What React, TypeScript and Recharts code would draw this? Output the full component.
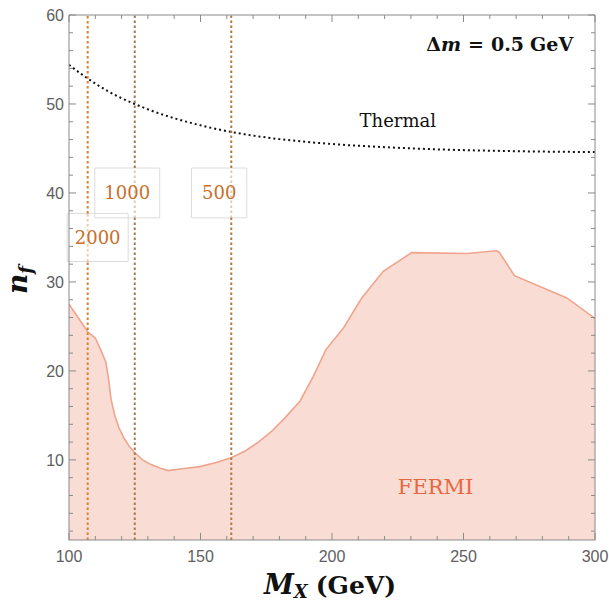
import React from 'react';
import { ComposedChart, Area, Line, XAxis, YAxis, ReferenceLine, ReferenceArea, ReferenceDot } from 'recharts';

if (typeof document !== 'undefined') {
  document.body.style.margin = '0';
}

// FERMI exclusion boundary
const fermiMass = [100, 103, 105.5, 107.1, 110, 112, 114, 115, 116, 117.5, 119, 121, 123, 125, 128, 131, 134.5, 137.7, 143, 149.8, 156, 161.7, 167, 172, 177, 182, 187.8, 192.9, 197.7, 204.3, 211.3, 219.5, 230.3, 251.3, 262.7, 263.7, 269.4, 289.3, 300];
const fermiNf = [27.5, 26.2, 25.1, 24.4, 23.7, 22.4, 21.0, 19.2, 16.8, 14.9, 13.6, 12.4, 11.5, 10.8, 10.0, 9.5, 9.1, 8.8, 9.0, 9.25, 9.7, 10.25, 11.0, 12.0, 13.2, 14.7, 16.6, 19.4, 22.4, 24.8, 28.2, 31.2, 33.3, 33.2, 33.5, 33.3, 30.7, 28.2, 25.9];

// Thermal curve
const thermalMass = [100, 105, 110, 115, 120, 125, 130, 140, 150, 160, 170, 180, 190, 200, 220, 240, 260, 280, 300];
const thermalNf = [54.4, 53.3, 52.3, 51.4, 50.65, 50.0, 49.4, 48.4, 47.6, 46.95, 46.45, 46.05, 45.75, 45.5, 45.15, 44.9, 44.75, 44.65, 44.6];

// Contour lines (vertical) and their labels
const contourMass = [107.1, 125, 161.7];
const contourLabels = ['2000', '1000', '500'];

// Axis ticks
const xTicks = [100, 110, 120, 130, 140, 150, 160, 170, 180, 190, 200, 210, 220, 230, 240, 250, 260, 270, 280, 290, 300];
const xMajor = [100, 150, 200, 250, 300];
const yTicks = [2, 4, 6, 8, 10, 12, 14, 16, 18, 20, 22, 24, 26, 28, 30, 32, 34, 36, 38, 40, 42, 44, 46, 48, 50, 52, 54, 56, 58, 60];
const yMajor = [10, 20, 30, 40, 50, 60];

const fermiData = fermiMass.map((m, i) => ({ m, nf: fermiNf[i] }));
const thermalData = thermalMass.map((m, i) => ({ m, nf: thermalNf[i] }));

// annotation layout (data coordinates of label boxes)
const contourColors = ['#d4822e', '#a67a50', '#b07a45'];
const labelBoxes = [
  { x1: 99.3, x2: 122.5, y1: 32.3, y2: 37.7 },
  { x1: 109.8, x2: 134.5, y1: 37.2, y2: 42.8 },
  { x1: 146.6, x2: 167.6, y1: 37.2, y2: 42.8 },
];

const X_MIN = 100, X_MAX = 300, Y_MIN = 1, Y_MAX = 60;

// layout
const CHART_W = 609, CHART_H = 603;
const M_TOP = 15, M_RIGHT = 14, Y_AXIS_W = 69, X_AXIS_H = 63;
const PLOT_W = CHART_W - M_RIGHT - Y_AXIS_W;
const PLOT_H = CHART_H - M_TOP - X_AXIS_H;

const AXIS = '#8a8a8a';
const TICKTEXT = '#5e5e5e';
const SANS = '"Liberation Sans", Arial, sans-serif';
const SERIF = '"DejaVu Serif", serif';

// bottom tick + mirrored top tick (+ top frame edge drawn once)
const BottomTick = (props: any) => {
  const { x, y, payload, index } = props;
  const major = xMajor.includes(payload.value);
  const len = major ? 7 : 4;
  const top = y - PLOT_H;
  return (
    <g>
      {index === 0 && <line x1={x} y1={top} x2={x + PLOT_W} y2={top} stroke={AXIS} strokeWidth={1} />}
      <line x1={x} y1={y} x2={x} y2={y - len} stroke={AXIS} strokeWidth={1} />
      <line x1={x} y1={top} x2={x} y2={top + len} stroke={AXIS} strokeWidth={1} />
      {major && (
        <text x={x} y={y + 22} textAnchor="middle" fontFamily={SANS} fontSize={16} fill={TICKTEXT}>
          {payload.value}
        </text>
      )}
    </g>
  );
};

// left tick + mirrored right tick (+ right frame edge drawn once)
const LeftTick = (props: any) => {
  const { x, y, payload } = props;
  const major = yMajor.includes(payload.value);
  const len = major ? 7 : 4;
  const right = x + PLOT_W;
  return (
    <g>
      {payload.value === Y_MAX && <line x1={right} y1={y} x2={right} y2={y + PLOT_H} stroke={AXIS} strokeWidth={1} />}
      <line x1={x} y1={y} x2={x + len} y2={y} stroke={AXIS} strokeWidth={1} />
      <line x1={right} y1={y} x2={right - len} y2={y} stroke={AXIS} strokeWidth={1} />
      {major && (
        <text x={x - 5} y={y} dy="0.36em" textAnchor="end" fontFamily={SANS} fontSize={16} fill={TICKTEXT}>
          {payload.value}
        </text>
      )}
    </g>
  );
};

const XTitle = () => (
  <text x={330} y={594} textAnchor="middle" fontFamily={SERIF} fill="#111">
    <tspan fontSize={27} fontStyle="italic" fontWeight="bold">M</tspan>
    <tspan fontSize={18} fontStyle="italic" fontWeight="bold" dy={4}>X</tspan>
    <tspan fontSize={25} fontWeight="bold" dx={8} dy={-4}>(GeV)</tspan>
  </text>
);

const YTitle = () => (
  <text x={0} y={0} transform="translate(27,294) rotate(-90)" textAnchor="start" fontFamily={SERIF} fill="#111">
    <tspan fontSize={28} fontStyle="italic" fontWeight="bold">n</tspan>
    <tspan fontSize={18} fontStyle="italic" fontWeight="bold" dy={5}>f</tspan>
  </text>
);

const DeltaLabel = (props: any) => {
  const vb = props.viewBox || {};
  const x = vb.x + (vb.width || 0) / 2;
  const y = vb.y + (vb.height || 0) / 2;
  return (
    <text x={x} y={y} dy="0.35em" textAnchor="end" fontFamily={SERIF} fontWeight="bold" fontSize={19} fill="#111">
      <tspan>Δ</tspan>
      <tspan fontStyle="italic">m</tspan>
      <tspan dx={7}>=</tspan>
      <tspan dx={7}>0.5</tspan>
      <tspan dx={6}>GeV</tspan>
    </text>
  );
};

// split each contour line around its label box (faded inside the box)
const contourSegments = contourMass.map((m, i) => {
  const b = labelBoxes[i];
  return [
    { y1: Y_MIN, y2: b.y1, faded: false },
    { y1: b.y1, y2: b.y2, faded: true },
    { y1: b.y2, y2: Y_MAX, faded: false },
  ];
});

export default function App() {
  return (
    <ComposedChart width={CHART_W} height={CHART_H} margin={{ top: M_TOP, right: M_RIGHT, bottom: 0, left: 0 }}>
      <XAxis
        xAxisId="b"
        dataKey="m"
        type="number"
        domain={[X_MIN, X_MAX]}
        ticks={xTicks}
        interval={0}
        orientation="bottom"
        height={X_AXIS_H}
        tickSize={0}
        tickMargin={0}
        tickLine={false}
        axisLine={{ stroke: AXIS }}
        tick={<BottomTick />}
        allowDataOverflow
        label={{ content: <XTitle /> }}
      />
      <YAxis
        yAxisId="l"
        type="number"
        domain={[Y_MIN, Y_MAX]}
        ticks={yTicks}
        interval={0}
        orientation="left"
        width={Y_AXIS_W}
        tickSize={0}
        tickMargin={0}
        tickLine={false}
        axisLine={{ stroke: AXIS }}
        tick={<LeftTick />}
        allowDataOverflow
        label={{ content: <YTitle /> }}
      />
      <Area
        xAxisId="b"
        yAxisId="l"
        data={fermiData}
        dataKey="nf"
        type="linear"
        baseValue={Y_MIN}
        fill="#f9ddd4"
        fillOpacity={1}
        stroke="#f0a48c"
        strokeWidth={1.6}
        isAnimationActive={false}
        dot={false}
        activeDot={false}
      />
      <Line
        xAxisId="b"
        yAxisId="l"
        data={thermalData}
        dataKey="nf"
        type="monotone"
        stroke="#111"
        strokeWidth={2}
        strokeDasharray="2 3"
        dot={false}
        activeDot={false}
        isAnimationActive={false}
      />
      {contourMass.map((m, i) =>
        contourSegments[i].map((s, j) => (
          <ReferenceLine
            key={'c' + i + '-' + j}
            xAxisId="b"
            yAxisId="l"
            segment={[
              { x: m, y: s.y1 },
              { x: m, y: s.y2 },
            ]}
            stroke={contourColors[i]}
            strokeOpacity={s.faded ? 0.4 : 1}
            strokeWidth={2}
            strokeDasharray="2.5 2.5"
          />
        ))
      )}
      {labelBoxes.map((b, i) => (
        <ReferenceArea
          key={'a' + i}
          xAxisId="b"
          yAxisId="l"
          x1={b.x1}
          x2={b.x2}
          y1={b.y1}
          y2={b.y2}
          fill="#ffffff"
          fillOpacity={0}
          stroke="#dcdcdc"
          strokeWidth={1}
          ifOverflow="visible"
          label={{ value: contourLabels[i], position: 'center', fill: '#c8702a', fontSize: 18, fontFamily: SERIF }}
        />
      ))}
      <ReferenceDot
        xAxisId="b"
        yAxisId="l"
        x={225}
        y={48.1}
        r={0}
        fill="none"
        stroke="none"
        label={{ value: 'Thermal', position: 'center', fill: '#111', fontSize: 18, fontFamily: SERIF }}
      />
      <ReferenceDot
        xAxisId="b"
        yAxisId="l"
        x={239.4}
        y={7.0}
        r={0}
        fill="none"
        stroke="none"
        label={{ value: 'FERMI', position: 'center', fill: '#e8663e', fontSize: 21, fontFamily: SERIF }}
      />
      <ReferenceDot
        xAxisId="b"
        yAxisId="l"
        x={291.7}
        y={56.7}
        r={0}
        fill="none"
        stroke="none"
        label={{ content: <DeltaLabel /> }}
      />
    </ComposedChart>
  );
}
